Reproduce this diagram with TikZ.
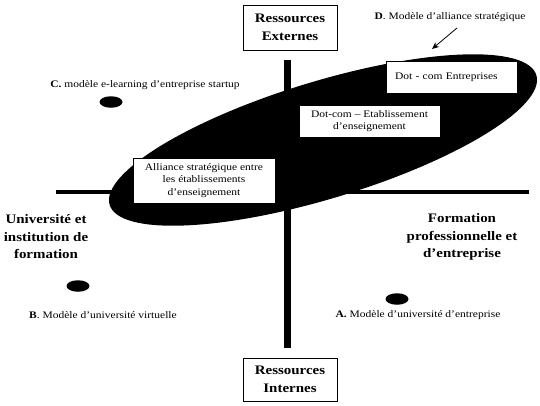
\documentclass[tikz,border=0pt]{standalone}
\usepackage{fontspec}
\setmainfont[FakeStretch=1.15]{Liberation Serif}
\usetikzlibrary{arrows.meta,shapes.geometric}
\begin{document}
\begin{tikzpicture}[x=1pt,y=-1pt,
  small/.style={font=\fontsize{10}{12.5}\selectfont},
  big/.style={font=\fontsize{13}{17.5}\selectfont\bfseries, align=center},
  resbox/.style={draw, line width=1pt, fill=white, minimum width=94pt, inner sep=0pt, big},
  whitebox/.style={draw, line width=0.7pt, fill=white, inner sep=0pt, small, align=center},
  blackdot/.style={fill=black, ellipse, inner sep=0pt, minimum width=23pt, minimum height=11.5pt},
  axis/.style={line width=#1},
]
\useasboundingbox (0,0) rectangle (540,405);
% axes
\coordinate (vt) at (287,60);
\coordinate (vb) at (287,348);
\coordinate (hl) at (56,192);
\coordinate (hr) at (529,192);
\draw[axis=7pt] (vt) -- (vb);
\draw[axis=3.5pt] (hl) -- (hr);
% big ellipse
\fill[rotate around={16.9:(323,140)}] (323,140) ellipse [x radius=223, y radius=58.6];
% boxes
\node[resbox, minimum height=45pt] (ext) at (290,27.5) {Ressources\\Externes};
\node[resbox, minimum height=43pt] (int) at (290,379.5) {Ressources\\Internes};
\node[whitebox, minimum width=131pt, minimum height=32pt, text width=113pt, align=left] (dce) at (451.5,77) {Dot - com Entreprises\\[4pt]};
\node[whitebox, minimum width=141pt, minimum height=32pt] (dcet) at (369.5,121) {Dot-com – Etablissement\\d’enseignement};
\node[whitebox, minimum width=142pt, minimum height=45pt] (alli) at (204,180.5) {Alliance stratégique entre\\les établissements\\d’enseignement};
% quadrant labels
\node[big] (univ) at (46,237) {Université et\\institution de\\formation};
\node[big] (form) at (462,237) {Formation\\professionnelle et\\d’entreprise};
% model labels and dots
\node[small] (labD) at (450,17) {\textbf{D}. Modèle d’alliance stratégique};
\node[small] (labC) at (145,85) {\textbf{C.} modèle e-learning d’entreprise startup};
\node[small] (labB) at (103,315) {\textbf{B}. Modèle d’université virtuelle};
\node[small] (labA) at (418,315) {\textbf{A.} Modèle d’université d’entreprise};
\node[blackdot] (dotC) at (111,102) {};
\node[blackdot] (dotB) at (78,286) {};
\node[blackdot] (dotA) at (397,299) {};
% arrow
\coordinate (arS) at (457,28);
\coordinate (arE) at (432,49);
\draw[line width=0.8pt, -{Stealth[length=7pt,width=6pt]}] (arS) -- (arE);
\end{tikzpicture}
\end{document}
